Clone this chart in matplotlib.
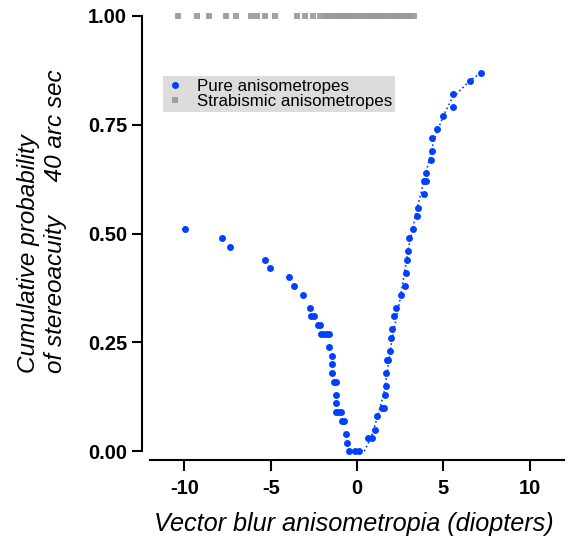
import matplotlib
matplotlib.use('Agg')
import matplotlib.pyplot as plt

plt.rcParams['font.family'] = ['Liberation Sans', 'DejaVu Sans']

# pure anisometropes
pure_x = [-9.97, -7.84, -7.36, -5.33, -5.04, -3.92, -3.63, -3.15, -2.74, -2.65,
          -2.52, -2.25, -2.12, -2.08, -1.92, -1.75, -1.60, -1.64, -1.43, -1.45,
          -1.45, -1.35, -1.22, -1.23, -1.23, -1.22, -1.08, -0.92, -0.84, -0.74,
          -0.64, -0.56, -0.44, -0.10, 0.10,
          0.66, 0.85, 1.04, 1.16, 1.45, 1.58, 1.62, 1.66, 1.66, 1.72,
          1.82, 1.93, 1.97, 2.05, 2.16, 2.26, 2.55, 2.76, 2.86, 2.88,
          2.96, 3.00, 3.27, 3.46, 3.56, 3.86, 3.90, 3.98, 3.98, 4.27,
          4.37, 4.37, 4.66, 4.97, 5.57, 5.57, 6.55, 7.17]
pure_y = [0.51, 0.49, 0.47, 0.44, 0.42, 0.40, 0.38, 0.36, 0.33, 0.31,
          0.31, 0.29, 0.29, 0.27, 0.27, 0.27, 0.27, 0.24, 0.22, 0.20,
          0.18, 0.16, 0.16, 0.13, 0.11, 0.09, 0.09, 0.09, 0.07, 0.07,
          0.04, 0.02, 0.00, 0.00, 0.00,
          0.03, 0.03, 0.05, 0.08, 0.10, 0.10, 0.13, 0.15, 0.18, 0.21,
          0.21, 0.23, 0.26, 0.28, 0.31, 0.33, 0.36, 0.38, 0.41, 0.44,
          0.46, 0.49, 0.51, 0.54, 0.56, 0.59, 0.62, 0.62, 0.64, 0.67,
          0.69, 0.72, 0.74, 0.77, 0.79, 0.82, 0.85, 0.87]

# fitted curve (dotted)
fit_x = [0.42, 0.8, 1.2, 1.6, 2.0, 2.5, 3.0, 3.5, 4.0, 4.5, 5.0, 5.5, 6.0, 6.5, 7.2]
fit_y = [0.00, 0.03, 0.08, 0.14, 0.25, 0.35, 0.47, 0.56, 0.64, 0.72, 0.77, 0.81, 0.83, 0.85, 0.87]

# strabismic anisometropes, all at 1.0
strab_x = [-10.36, -9.26, -8.56, -7.59, -7.01, -6.16, -5.78, -5.33, -4.75, -3.46,
           -3.01, -2.57, -2.14, -1.85, -1.7, -1.55, -1.4, -1.25, -1.1, -0.95,
           -0.8, -0.65, -0.5, -0.35, -0.2, -0.05, 0.1, 0.25, 0.4, 0.55,
           0.7, 0.85, 1.0, 1.15, 1.3, 1.45, 1.6, 1.75, 1.9, 2.05,
           2.2, 2.35, 2.5, 2.65, 2.8, 2.95, 3.1, 3.3]
strab_y = [1.0] * len(strab_x)

x_ticks = [-10, -5, 0, 5, 10]
y_ticks = [0.0, 0.25, 0.5, 0.75, 1.0]

blue = '#0040FF'
grey = '#999999'

fig = plt.figure(figsize=(5.68, 5.43), dpi=100)
ax = fig.add_axes([0.264, 0.1529, 0.729, 0.8337])

ax.plot(fit_x, fit_y, ':', color=blue, linewidth=1.2)
ax.plot(pure_x, pure_y, 'o', color=blue, markersize=5, markeredgewidth=0,
        label='Pure anisometropes')
ax.plot(strab_x, strab_y, 's', color=grey, markersize=5, markeredgewidth=0,
        alpha=0.9, label='Strabismic anisometropes', clip_on=False)

ax.set_xlim(-12, 12)
ax.set_ylim(-0.02, 1.02)
ax.set_xticks(x_ticks)
ax.set_xticklabels([str(t) for t in x_ticks])
ax.set_yticks(y_ticks)
ax.set_yticklabels([f'{t:.2f}' for t in y_ticks])

for s in ['top', 'right']:
    ax.spines[s].set_visible(False)
ax.spines['left'].set_position(('outward', 6))
ax.spines['left'].set_bounds(0, 1)
ax.spines['bottom'].set_bounds(-12, 12)
for s in ['left', 'bottom']:
    ax.spines[s].set_linewidth(1.5)

ax.tick_params(axis='both', width=1.5, length=7, labelsize=14.5, direction='out')
ax.tick_params(axis='x', length=8, pad=6)
for lab in ax.get_xticklabels() + ax.get_yticklabels():
    lab.set_fontweight('bold')

ax.set_xlabel('Vector blur anisometropia (diopters)', fontsize=18.2, style='italic')
ax.xaxis.set_label_coords(0.492, -0.115)
fig.text(42 / 568, 1 - 221 / 543,
         'Cumulative probability\nof stereoacuity     40 arc sec',
         rotation=90, ha='center', va='center', multialignment='left',
         fontsize=17.5, style='italic')

leg = ax.legend(loc='upper left', bbox_to_anchor=(0.031, 0.849), fontsize=12.2,
                frameon=True, fancybox=False, handlelength=1.0, handletextpad=0.8,
                borderpad=0.2, labelspacing=0.0, borderaxespad=0)
leg.get_frame().set_facecolor('#DCDCDC')
leg.get_frame().set_edgecolor('none')
leg.get_frame().set_alpha(1)

plt.savefig('out.png', dpi=100)
